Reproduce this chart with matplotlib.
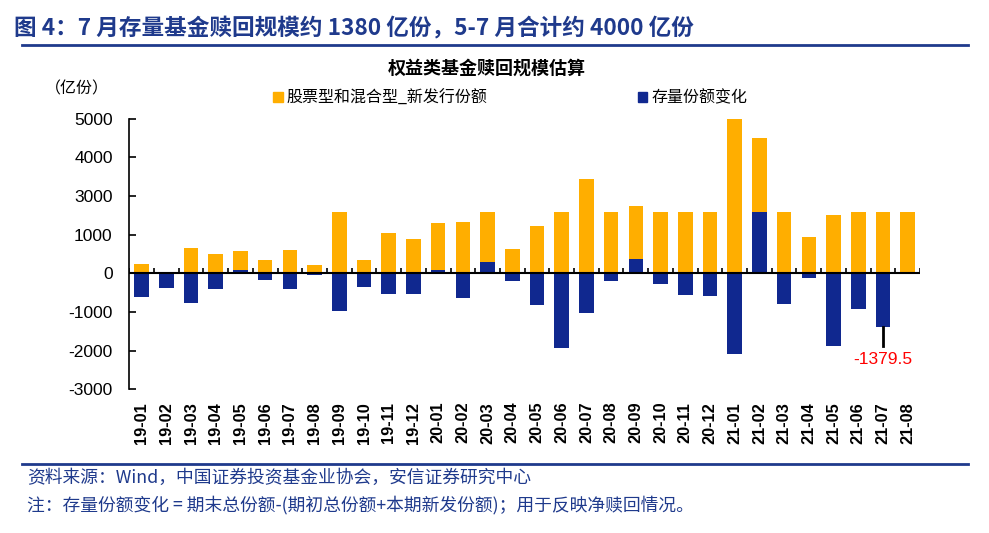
import matplotlib
matplotlib.use("Agg")
import matplotlib.pyplot as plt
from matplotlib.patches import Patch
import numpy as np

plt.rcParams['font.family'] = ['Liberation Sans', 'Noto Sans CJK SC', 'DejaVu Sans']

categories = ["19-01", "19-02", "19-03", "19-04", "19-05", "19-06", "19-07", "19-08",
              "19-09", "19-10", "19-11", "19-12", "20-01", "20-02", "20-03", "20-04",
              "20-05", "20-06", "20-07", "20-08", "20-09", "20-10", "20-11", "20-12",
              "21-01", "21-02", "21-03", "21-04", "21-05", "21-06", "21-07", "21-08"]
new_issue = [241, 34, 655, 500, 578, 345, 603, 216,
             1586, 345, 1043, 888, 1302, 1328, 1586, 629,
             1224, 1586, 2440, 1586, 1741, 1586, 1586, 1586,
             4000, 3500, 1586, 940, 1509, 1586, 1586, 1586]
stock_change = [-603, -371, -759, -397, 86, -172, -397, -34,
                -966, -345, -526, -526, 86, -629, 293, -190,
                -810, -1922, -1017, -190, 371, -267, -552, -578,
                -2078, 1586, -784, -112, -1871, -914, -1379.5, 0]
ytick_values = [-3000, -2000, -1000, 0, 1000, 2000, 3000, 4000]
ytick_labels = ["-3000", "-2000", "-1000", "0", "1000", "3000", "4000", "5000"]
series_names = ["股票型和混合型_新发行份额", "存量份额变化"]
annot_index = 30

YELLOW = "#FFAE00"
BLUE = "#10288F"
NAVY = "#1F3A8C"
CJK = ['Noto Sans CJK SC', 'DejaVu Sans']

fig = plt.figure(figsize=(9.89, 5.33), dpi=100)
W, H = 989, 533
ax = fig.add_axes([129.3 / W, 1 - 389.3 / H, (920 - 129.3) / W, (389.3 - 118.7) / H])

x = np.arange(len(categories))
bw = 0.59
ax.bar(x, new_issue, width=bw, color=YELLOW, zorder=2, label=series_names[0])
ax.bar(x, stock_change, width=bw, color=BLUE, zorder=3, label=series_names[1])

ax.set_xlim(-0.5, len(categories) - 0.5)
ax.set_ylim(-3000, 4000)

# zero line with small category separator ticks pointing up
ax.axhline(0, color="black", lw=1.5, zorder=4)
ax.vlines(np.arange(len(categories) + 1) - 0.5, 0, 140, color="black", lw=1.2, zorder=4)

for s in ["top", "right", "bottom"]:
    ax.spines[s].set_visible(False)
ax.spines["left"].set_linewidth(1.2)

ax.set_yticks(ytick_values)
ax.set_yticklabels(ytick_labels, fontsize=12.5, family=['Liberation Sans'])
ax.tick_params(axis="y", direction="in", length=5, width=1.2, pad=12)

ax.set_xticks(x)
ax.set_xticklabels(categories, rotation=90, fontsize=11.8, fontweight="bold",
                   family=['Liberation Sans'])
ax.tick_params(axis="x", length=0, pad=9)

# annotation for 21-07
yv = stock_change[annot_index]
ax.plot([annot_index, annot_index], [yv, -1873], color="black", lw=2, zorder=5)
ax.text(annot_index, -2220, f"{yv}", color="#FF0000", fontsize=12.5, ha="center",
        va="center", family=['Liberation Sans'])

# titles & decorations
fig.text(487 / W, 1 - 68 / H, "权益类基金赎回规模估算", fontsize=13, fontweight="bold",
         ha="center", va="center", family=CJK)
fig.text(77 / W, 1 - 89 / H, "（亿份）", fontsize=11.5, ha="center", va="center", family=CJK)

handles = [Patch(color=YELLOW), Patch(color=BLUE)]
fig.legend(handles, series_names, loc="center", bbox_to_anchor=(510 / W, 1 - 98 / H),
           ncol=2, frameon=False, prop={'family': CJK, 'size': 11.5},
           handlelength=0.6, handleheight=0.6, handletextpad=0.25, columnspacing=9.4)

fig.text(14 / W, 1 - 28 / H, "图 4：7 月存量基金赎回规模约 1380 亿份，5-7 月合计约 4000 亿份",
         fontsize=16.3, fontweight="bold", color=NAVY, ha="left", va="center", family=CJK)

fig.add_artist(plt.Line2D([22 / W, 968 / W], [1 - 45 / H, 1 - 45 / H], color=NAVY, lw=2))
fig.add_artist(plt.Line2D([22 / W, 968 / W], [1 - 464 / H, 1 - 464 / H], color=NAVY, lw=2))

fig.text(27 / W, 1 - 478 / H, "资料来源：Wind，中国证券投资基金业协会，安信证券研究中心",
         fontsize=12.8, color=NAVY, ha="left", va="center", family=CJK)
fig.text(27 / W, 1 - 505.5 / H,
         "注：存量份额变化 = 期末总份额-(期初总份额+本期新发份额)；用于反映净赎回情况。",
         fontsize=12.8, color=NAVY, ha="left", va="center", family=CJK)

fig.savefig("out.png", dpi=100)
